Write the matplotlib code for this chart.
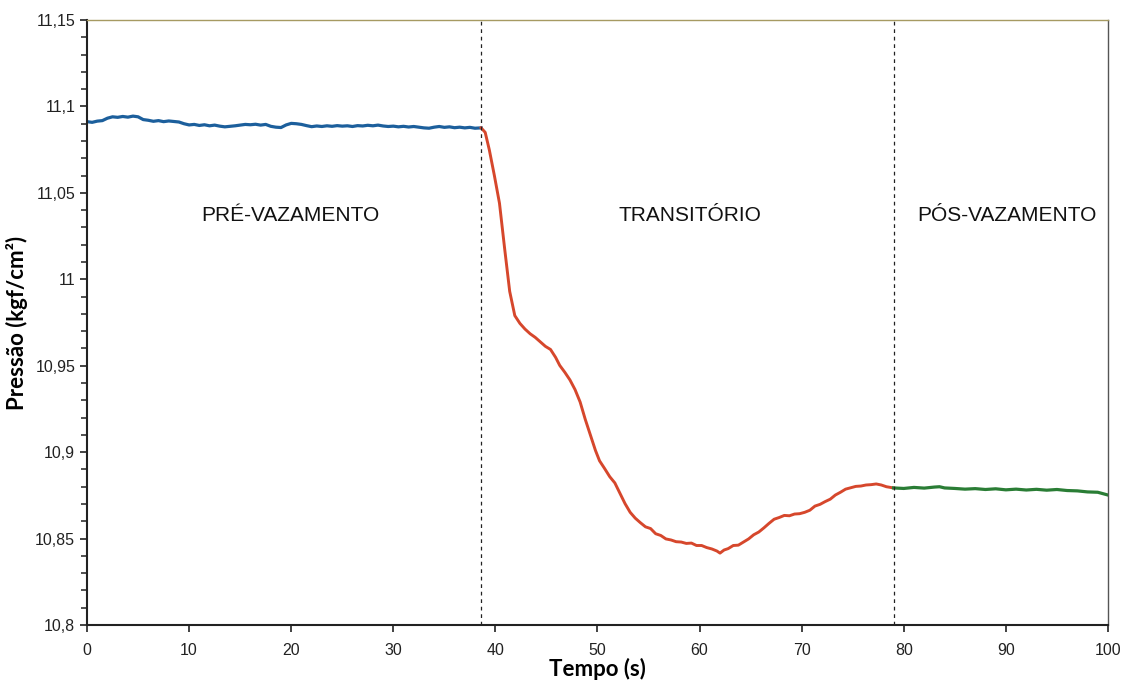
import numpy as np
import matplotlib
matplotlib.use('Agg')
import matplotlib.pyplot as plt
from matplotlib.ticker import MultipleLocator, FuncFormatter

# pressure readings, one list per regime
t_pre = [0, 0.5, 1, 1.5, 2, 2.5, 3, 3.5, 4, 4.5, 5, 5.5, 6, 6.5, 7, 7.5, 8, 8.5, 9, 9.5,
         10, 10.5, 11, 11.5, 12, 12.5, 13, 13.5, 14, 14.5, 15, 15.5, 16, 16.5, 17, 17.5,
         18, 18.5, 19, 19.5, 20, 20.5, 21, 21.5, 22, 22.5, 23, 23.5, 24, 24.5, 25, 25.5,
         26, 26.5, 27, 27.5, 28, 28.5, 29, 29.5, 30, 30.5, 31, 31.5, 32, 32.5, 33, 33.5,
         34, 34.5, 35, 35.5, 36, 36.5, 37, 37.5, 38, 38.6]
p_pre = [11.0912, 11.0908, 11.0915, 11.0918, 11.0932, 11.0940, 11.0937, 11.0942, 11.0938, 11.0944,
         11.0940, 11.0924, 11.0920, 11.0914, 11.0918, 11.0912, 11.0916, 11.0913, 11.0910, 11.0900,
         11.0893, 11.0896, 11.0890, 11.0894, 11.0888, 11.0892, 11.0886, 11.0882, 11.0885, 11.0888,
         11.0892, 11.0896, 11.0894, 11.0897, 11.0892, 11.0896, 11.0885, 11.0880, 11.0878, 11.0893,
         11.0902, 11.0900, 11.0896, 11.0889, 11.0883, 11.0887, 11.0884, 11.0888, 11.0885, 11.0889,
         11.0886, 11.0888, 11.0884, 11.0889, 11.0887, 11.0891, 11.0888, 11.0892, 11.0887, 11.0884,
         11.0886, 11.0882, 11.0885, 11.0881, 11.0884, 11.0880, 11.0876, 11.0874, 11.0880, 11.0884,
         11.0879, 11.0882, 11.0877, 11.0880, 11.0876, 11.0879, 11.0874, 11.0876]

t_tr = [38.6, 39.0, 39.4, 39.9, 40.4, 40.9, 41.4, 41.9, 42.4, 42.9, 43.4, 43.9, 44.4, 44.9,
        45.4, 45.9, 46.3, 46.8, 47.3, 47.8, 48.3, 48.8, 49.3, 49.8, 50.2, 50.7, 51.2, 51.7,
        52.2, 52.7, 53.2, 53.7, 54.2, 54.7, 55.2, 55.7, 56.2, 56.7, 57.2, 57.7, 58.2, 58.7,
        59.2, 59.7, 60.2, 60.7, 61.2, 61.7, 62.0, 62.4, 62.8, 63.3, 63.8, 64.3, 64.8, 65.3,
        65.8, 66.3, 66.8, 67.3, 67.8, 68.3, 68.8, 69.3, 69.8, 70.3, 70.8, 71.3, 71.8, 72.3,
        72.8, 73.3, 73.8, 74.3, 74.8, 75.3, 75.8, 76.3, 76.8, 77.3, 77.8, 78.3, 79.0]
p_tr = [11.0876, 11.0850, 11.0750, 11.0600, 11.0440, 11.0180, 10.9930, 10.9790, 10.9745, 10.9712,
        10.9685, 10.9664, 10.9638, 10.9612, 10.9594, 10.9548, 10.9502, 10.9462, 10.9418, 10.9362,
        10.9290, 10.9190, 10.9100, 10.9010, 10.8950, 10.8905, 10.8858, 10.8822, 10.8762, 10.8702,
        10.8652, 10.8618, 10.8592, 10.8568, 10.8558, 10.8528, 10.8518, 10.8498, 10.8492, 10.8482,
        10.8480, 10.8472, 10.8474, 10.8460, 10.8460, 10.8448, 10.8440, 10.8428, 10.8416, 10.8434,
        10.8442, 10.8460, 10.8462, 10.8480, 10.8498, 10.8522, 10.8538, 10.8562, 10.8588, 10.8612,
        10.8622, 10.8634, 10.8632, 10.8642, 10.8644, 10.8652, 10.8664, 10.8688, 10.8698, 10.8714,
        10.8728, 10.8752, 10.8768, 10.8786, 10.8794, 10.8802, 10.8804, 10.8810, 10.8812, 10.8816,
        10.8810, 10.8800, 10.8793]

t_pos = [79.0, 80, 81, 82, 83, 83.5, 84, 85, 86, 87, 88, 89, 90, 91, 92, 93, 94, 95, 96, 97,
         98, 99, 99.5, 100]
p_pos = [10.8793, 10.8790, 10.8796, 10.8792, 10.8798, 10.8800, 10.8793, 10.8790, 10.8786, 10.8789,
         10.8784, 10.8788, 10.8782, 10.8786, 10.8781, 10.8785, 10.8780, 10.8784, 10.8778, 10.8776,
         10.8770, 10.8768, 10.8760, 10.8752]

t_limits = [38.6, 79.0]
regimes = ['PRÉ-VAZAMENTO', 'TRANSITÓRIO', 'PÓS-VAZAMENTO']
regime_x = [19.9, 59.1, 90.1]

plt.rcParams['font.family'] = ['Liberation Sans', 'DejaVu Sans']

fig = plt.figure(figsize=(11.23, 6.83), dpi=100)
ax = fig.add_axes([0.0775, 0.0849, 0.9091, 0.8858])

ax.plot(t_pre, p_pre, color='#1c5f9c', lw=2.3)
ax.plot(t_tr, p_tr, color='#d6472c', lw=2.1)
ax.plot(t_pos, p_pos, color='#2a7d35', lw=2.3)

for x in t_limits:
    ax.axvline(x, color='#222222', lw=0.9, ls=(0, (3, 3)))

for lab, x in zip(regimes, regime_x):
    ax.text(x, 11.037, lab, ha='center', va='center', fontsize=15, color='#111111')

ax.set_xlim(0, 100)
ax.set_ylim(10.8, 11.15)
ax.xaxis.set_major_locator(MultipleLocator(10))
ax.yaxis.set_major_locator(MultipleLocator(0.05))
ax.yaxis.set_minor_locator(MultipleLocator(0.01))

def fmt_y(v, pos):
    s = ('%.2f' % v).rstrip('0').rstrip('.')
    return s.replace('.', ',')

ax.yaxis.set_major_formatter(FuncFormatter(fmt_y))
ax.tick_params(axis='both', which='major', labelsize=11.5, direction='out', length=5, width=1.2,
               color='#222222', labelcolor='#222222')
ax.tick_params(axis='y', which='minor', direction='out', length=4, width=1.1, color='#222222')
ax.tick_params(axis='x', pad=8)

ax.spines['left'].set_color('#222222')
ax.spines['bottom'].set_color('#222222')
ax.spines['left'].set_linewidth(1.5)
ax.spines['bottom'].set_linewidth(1.5)
ax.spines['top'].set_color('#a69a62')
ax.spines['top'].set_linewidth(1.0)
ax.spines['right'].set_color('#555555')
ax.spines['right'].set_linewidth(1.0)

ax.set_xlabel('Tempo (s)', fontsize=16, fontweight='bold', family=['Lato', 'DejaVu Sans'],
              labelpad=0)
ax.set_ylabel('Pressão (kgf/cm²)', fontsize=16, fontweight='bold', family=['Lato', 'DejaVu Sans'],
              labelpad=5)

fig.savefig('out.png', dpi=100)
